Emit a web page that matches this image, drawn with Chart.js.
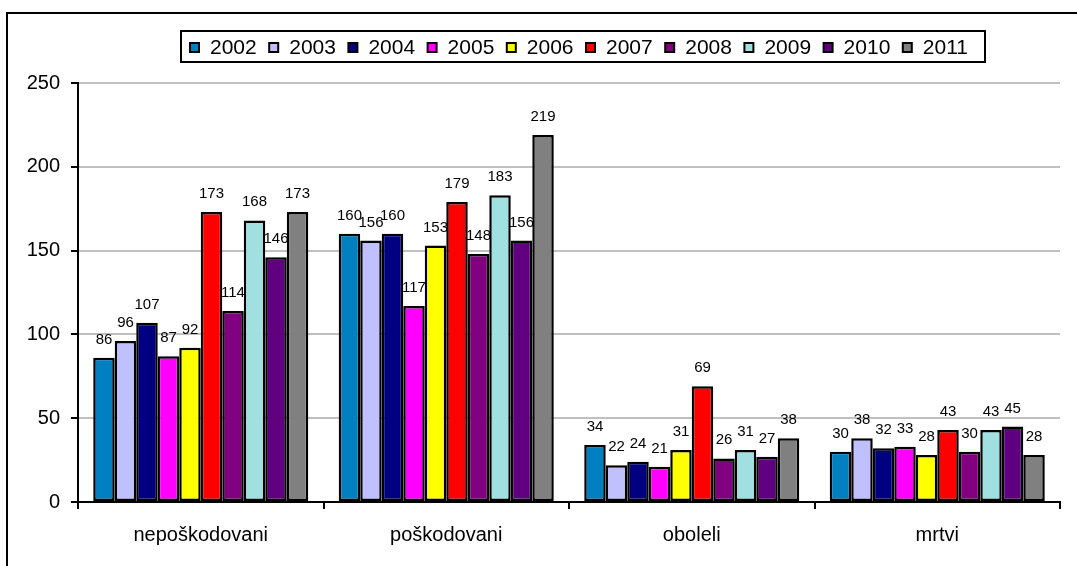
<!DOCTYPE html>
<html>
<head>
<meta charset="utf-8">
<script src="https://cdn.jsdelivr.net/npm/chart.js@4.4.0/dist/chart.umd.min.js"></script>
<style>
html,body{margin:0;padding:0;background:#fff;}
#wrap{width:1077px;height:566px;position:relative;}
</style>
</head>
<body>
<div id="wrap"><canvas id="c" width="1077" height="566"></canvas></div>
<script>
const categories = ['nepoškodovani', 'poškodovani', 'oboleli', 'mrtvi'];
const years = ['2002','2003','2004','2005','2006','2007','2008','2009','2010','2011'];
const v2002 = [86, 160, 34, 30];
const v2003 = [96, 156, 22, 38];
const v2004 = [107, 160, 24, 32];
const v2005 = [87, 117, 21, 33];
const v2006 = [92, 153, 31, 28];
const v2007 = [173, 179, 69, 43];
const v2008 = [114, 148, 26, 30];
const v2009 = [168, 183, 31, 43];
const v2010 = [146, 156, 27, 45];
const v2011 = [173, 219, 38, 28];
const seriesValues = [v2002, v2003, v2004, v2005, v2006, v2007, v2008, v2009, v2010, v2011];
const colors = ['#0080C0','#C0C0FF','#000080','#FF00FF','#FFFF00','#FF0000','#800080','#A0E0E0','#600080','#808080'];
const yTicks = [0, 50, 100, 150, 200, 250];

const FONT = '"Liberation Sans", Arial, sans-serif';

const datasets = years.map((y, i) => ({
  label: y,
  data: seriesValues[i],
  backgroundColor: colors[i],
  borderColor: '#000',
  borderWidth: 2.5,
  borderSkipped: false
}));

const framePlugin = {
  id: 'frame',
  beforeDraw(chart) {
    const ctx = chart.ctx;
    ctx.save();
    ctx.fillStyle = '#fff';
    ctx.fillRect(0, 0, chart.width, chart.height);
    ctx.strokeStyle = '#000';
    ctx.lineWidth = 2;
    ctx.strokeRect(7, 13, 2000, 2000);
    ctx.restore();
  }
};

const valueLabels = {
  id: 'valueLabels',
  afterDatasetsDraw(chart) {
    const ctx = chart.ctx;
    ctx.save();
    ctx.font = '15px ' + FONT;
    ctx.fillStyle = '#000';
    ctx.textAlign = 'center';
    ctx.textBaseline = 'alphabetic';
    chart.data.datasets.forEach((ds, di) => {
      const meta = chart.getDatasetMeta(di);
      meta.data.forEach((el, i) => {
        ctx.fillText(String(ds.data[i]), el.x, el.y - 14);
      });
    });
    ctx.restore();
  }
};

const boxLegend = {
  id: 'boxLegend',
  afterDraw(chart) {
    const ctx = chart.ctx;
    ctx.save();
    ctx.font = '21px ' + FONT;
    const left = 181, top = 31, right = 985, h = 31, sq = 9, textStart0 = 210, pitch = 79.2, gapText = 11;
    const cy = 47.5;
    ctx.fillStyle = '#fff';
    ctx.fillRect(left, top, right - left, h);
    ctx.strokeStyle = '#000';
    ctx.lineWidth = 2;
    ctx.strokeRect(left, top, right - left, h);
    ctx.textBaseline = 'middle';
    ctx.textAlign = 'left';
    chart.data.datasets.forEach((ds, i) => {
      const tx = textStart0 + i * pitch;
      const sx = tx - gapText - sq;
      ctx.fillStyle = ds.backgroundColor;
      ctx.fillRect(sx, cy - sq / 2, sq, sq);
      ctx.lineWidth = 2;
      ctx.strokeStyle = '#000';
      ctx.strokeRect(sx, cy - sq / 2, sq, sq);
      ctx.fillStyle = '#000';
      ctx.fillText(ds.label, tx, cy + 1);
    });
    ctx.restore();
  }
};

new Chart(document.getElementById('c'), {
  type: 'bar',
  data: { labels: categories, datasets },
  options: {
    responsive: false,
    animation: false,
    devicePixelRatio: 1,
    layout: { padding: { top: 83, right: 17, bottom: 0, left: 0 } },
    plugins: { legend: { display: false }, tooltip: { enabled: false } },
    datasets: { bar: { categoryPercentage: 0.876, barPercentage: 1.0 } },
    scales: {
      x: {
        offset: true,
        grid: { display: true, offset: true, drawOnChartArea: false, color: '#000', tickColor: '#000', tickLength: 7, lineWidth: 2 },
        border: { display: true, color: '#000', width: 2 },
        ticks: { font: { family: FONT, size: 20 }, color: '#000', padding: 14 },
        afterFit(scale) { scale.height = 64; }
      },
      y: {
        min: 0, max: 250,
        afterBuildTicks(scale) { scale.ticks = yTicks.map(v => ({ value: v })); },
        grid: { color: '#C0C0C0', lineWidth: 2, tickColor: '#000', tickLength: 7, drawTicks: true },
        border: { display: true, color: '#000', width: 2 },
        ticks: { font: { family: FONT, size: 20 }, color: '#000', padding: 11 },
        afterFit(scale) { scale.width = 78; }
      }
    }
  },
  plugins: [framePlugin, valueLabels, boxLegend]
});
</script>
</body>
</html>
